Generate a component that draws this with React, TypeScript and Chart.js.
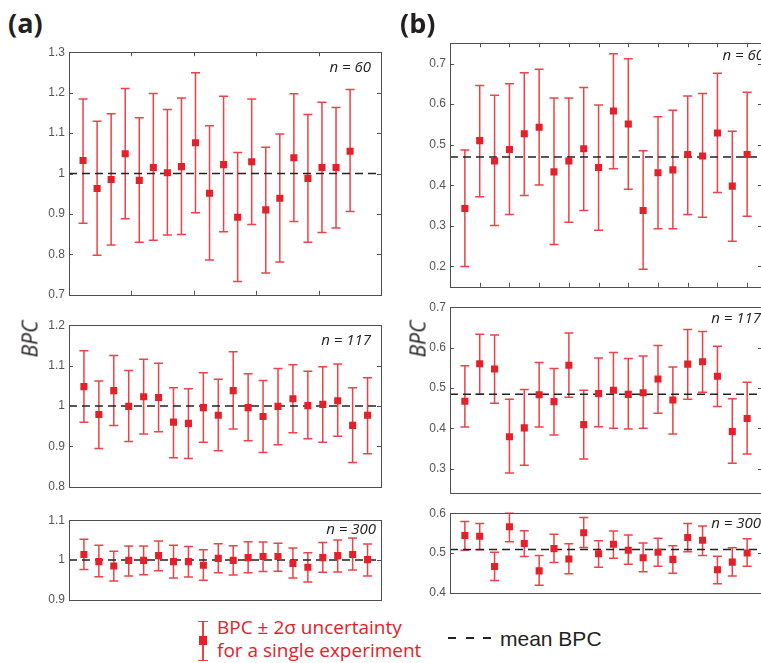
import React, { useEffect, useRef } from "react";
import { Chart, registerables } from "chart.js";
Chart.register(...registerables);

// ---------- data ----------
const experiments = [1, 2, 3, 4, 5, 6, 7, 8, 9, 10, 11, 12, 13, 14, 15, 16, 17, 18, 19, 20];

// (a) n = 60
const a60Val = [1.032, 0.963, 0.985, 1.049, 0.983, 1.015, 1.002, 1.017, 1.076, 0.951, 1.022, 0.892, 1.029, 0.910, 0.939, 1.039, 0.988, 1.015, 1.015, 1.055];
const a60Hi = [1.184, 1.129, 1.148, 1.210, 1.138, 1.198, 1.158, 1.187, 1.249, 1.118, 1.191, 1.052, 1.184, 1.065, 1.098, 1.197, 1.146, 1.176, 1.163, 1.208];
const a60Lo = [0.877, 0.798, 0.823, 0.888, 0.830, 0.835, 0.848, 0.849, 0.903, 0.786, 0.856, 0.733, 0.874, 0.754, 0.781, 0.881, 0.830, 0.854, 0.865, 0.906];
const a60Mean = 1.0;
const a60YTicks = [0.7, 0.8, 0.9, 1, 1.1, 1.2, 1.3];

// (a) n = 117
const a117Val = [1.048, 0.979, 1.038, 0.999, 1.023, 1.021, 0.960, 0.957, 0.996, 0.977, 1.038, 0.996, 0.974, 0.999, 1.018, 1.001, 1.004, 1.013, 0.952, 0.977];
const a117Hi = [1.137, 1.062, 1.125, 1.088, 1.116, 1.106, 1.045, 1.043, 1.082, 1.066, 1.134, 1.080, 1.063, 1.093, 1.102, 1.086, 1.097, 1.104, 1.045, 1.070];
const a117Lo = [0.960, 0.895, 0.952, 0.912, 0.931, 0.936, 0.872, 0.870, 0.910, 0.889, 0.943, 0.914, 0.885, 0.904, 0.934, 0.919, 0.910, 0.925, 0.860, 0.882];
const a117Mean = 1.0;
const a117YTicks = [0.8, 0.9, 1, 1.1, 1.2];

// (a) n = 300
const a300Val = [1.014, 0.996, 0.985, 0.999, 0.999, 1.011, 0.996, 0.996, 0.987, 1.004, 0.999, 1.006, 1.009, 1.009, 0.991, 0.982, 1.006, 1.011, 1.014, 1.001];
const a300Hi = [1.052, 1.037, 1.022, 1.035, 1.035, 1.048, 1.037, 1.034, 1.026, 1.041, 1.036, 1.046, 1.045, 1.042, 1.030, 1.018, 1.044, 1.050, 1.055, 1.040];
const a300Lo = [0.976, 0.958, 0.947, 0.960, 0.963, 0.973, 0.955, 0.957, 0.949, 0.968, 0.962, 0.968, 0.971, 0.972, 0.955, 0.945, 0.969, 0.970, 0.975, 0.960];
const a300Mean = 1.0;
const a300YTicks = [0.9, 1, 1.1];

// (b) n = 60
const b60Val = [0.343, 0.510, 0.460, 0.488, 0.527, 0.543, 0.433, 0.460, 0.490, 0.444, 0.583, 0.551, 0.338, 0.431, 0.438, 0.476, 0.472, 0.529, 0.398, 0.476];
const b60Hi = [0.487, 0.646, 0.622, 0.650, 0.677, 0.686, 0.615, 0.615, 0.641, 0.598, 0.724, 0.712, 0.485, 0.569, 0.585, 0.620, 0.626, 0.676, 0.533, 0.629];
const b60Lo = [0.200, 0.372, 0.301, 0.328, 0.375, 0.401, 0.254, 0.309, 0.338, 0.289, 0.441, 0.390, 0.193, 0.293, 0.293, 0.328, 0.321, 0.382, 0.262, 0.324];
const b60Mean = 0.470;
const b60YTicks = [0.2, 0.3, 0.4, 0.5, 0.6, 0.7];
const b60XTicks = [2, 4, 6, 8, 10, 12, 14, 16, 18, 20];

// (b) n = 117
const b117Val = [0.467, 0.560, 0.547, 0.379, 0.401, 0.483, 0.466, 0.556, 0.409, 0.486, 0.494, 0.484, 0.488, 0.522, 0.470, 0.559, 0.565, 0.529, 0.392, 0.424];
const b117Hi = [0.555, 0.633, 0.631, 0.472, 0.496, 0.563, 0.548, 0.636, 0.494, 0.574, 0.588, 0.573, 0.579, 0.605, 0.552, 0.645, 0.640, 0.603, 0.473, 0.514];
const b117Lo = [0.403, 0.484, 0.462, 0.289, 0.308, 0.403, 0.383, 0.477, 0.324, 0.404, 0.400, 0.398, 0.400, 0.437, 0.386, 0.472, 0.489, 0.454, 0.313, 0.336];
const b117Mean = 0.484;
const b117YTicks = [0.3, 0.4, 0.5, 0.6, 0.7];

// (b) n = 300
const b300Val = [0.544, 0.542, 0.466, 0.566, 0.524, 0.455, 0.511, 0.485, 0.551, 0.498, 0.522, 0.507, 0.488, 0.502, 0.484, 0.539, 0.532, 0.458, 0.477, 0.500];
const b300Hi = [0.579, 0.574, 0.502, 0.600, 0.556, 0.494, 0.547, 0.523, 0.589, 0.531, 0.555, 0.545, 0.525, 0.537, 0.518, 0.574, 0.568, 0.492, 0.513, 0.536];
const b300Lo = [0.507, 0.508, 0.431, 0.528, 0.491, 0.419, 0.476, 0.448, 0.514, 0.464, 0.487, 0.472, 0.453, 0.467, 0.449, 0.503, 0.494, 0.423, 0.442, 0.467];
const b300Mean = 0.509;
const b300YTicks = [0.4, 0.5, 0.6];

// ---------- layout / style ----------
const RED = "#e4202a";
const BAR_RED = "rgba(234,40,46,0.88)";
const AXIS = "#4f4f4f";
const TICK_FONT = "'Liberation Sans', Arial, sans-serif";
const LABEL_FONT = "'Open Sans', 'Noto Sans', sans-serif";
const YW = 45;
const PAD = 10;

type Spec = {
  id: string; left: number; top: number; right: number; bottom: number;
  yMin: number; yMax: number; yTicks: number[]; xMax: number; xTicks: number[];
  val: number[]; lo: number[]; hi: number[]; mean: number;
  label: string; labelRight: number; labelY: number;
};

const a60XMax = 22.2;
const panels: Spec[] = [
  { id: "a60", left: 69, top: 51, right: 381, bottom: 296, yMin: 0.7, yMax: 1.3, yTicks: a60YTicks, xMax: a60XMax,
    xTicks: [0.2, 0.4, 0.6, 0.8].map((f) => f * a60XMax), val: a60Val, lo: a60Lo, hi: a60Hi, mean: a60Mean,
    label: "n = 60", labelRight: 371, labelY: 67 },
  { id: "a117", left: 69, top: 324, right: 381, bottom: 488, yMin: 0.8, yMax: 1.2, yTicks: a117YTicks, xMax: 20.9,
    xTicks: [], val: a117Val, lo: a117Lo, hi: a117Hi, mean: a117Mean, label: "n = 117", labelRight: 371, labelY: 340 },
  { id: "a300", left: 69, top: 519, right: 381, bottom: 601, yMin: 0.9, yMax: 1.1, yTicks: a300YTicks, xMax: 20.9,
    xTicks: [], val: a300Val, lo: a300Lo, hi: a300Hi, mean: a300Mean, label: "n = 300", labelRight: 376, labelY: 529 },
  { id: "b60", left: 450, top: 42, right: 762, bottom: 288, yMin: 0.15, yMax: 0.75, yTicks: b60YTicks, xMax: 21,
    xTicks: b60XTicks, val: b60Val, lo: b60Lo, hi: b60Hi, mean: b60Mean, label: "n = 60", labelRight: 764, labelY: 55 },
  { id: "b117", left: 450, top: 306, right: 762, bottom: 494, yMin: 0.24, yMax: 0.7, yTicks: b117YTicks, xMax: 21,
    xTicks: [], val: b117Val, lo: b117Lo, hi: b117Hi, mean: b117Mean, label: "n = 117", labelRight: 761, labelY: 318 },
  { id: "b300", left: 450, top: 512, right: 762, bottom: 594, yMin: 0.4, yMax: 0.6, yTicks: b300YTicks, xMax: 21,
    xTicks: [], val: b300Val, lo: b300Lo, hi: b300Hi, mean: b300Mean, label: "n = 300", labelRight: 761, labelY: 523 },
];

function Panel({ s }: { s: Spec }) {
  const ref = useRef<HTMLCanvasElement>(null);
  const w = YW + (s.right - s.left) + PAD;
  const h = (s.bottom - s.top) + 2 * PAD;
  useEffect(() => {
    const decor = {
      id: "decor_" + s.id,
      beforeDatasetsDraw(chart: any) {
        const ctx = chart.ctx;
        const xs = chart.scales.x;
        const ys = chart.scales.y;
        ctx.save();
        ctx.strokeStyle = BAR_RED;
        ctx.lineWidth = 1.5;
        experiments.forEach((e, i) => {
          const x = xs.getPixelForValue(e);
          const yt = ys.getPixelForValue(s.hi[i]);
          const yb = ys.getPixelForValue(s.lo[i]);
          ctx.beginPath();
          ctx.moveTo(x, yt); ctx.lineTo(x, yb);
          ctx.moveTo(x - 4.5, yt); ctx.lineTo(x + 4.5, yt);
          ctx.moveTo(x - 4.5, yb); ctx.lineTo(x + 4.5, yb);
          ctx.stroke();
        });
        ctx.restore();
      },
      afterDraw(chart: any) {
        const ctx = chart.ctx;
        const a = chart.chartArea;
        const xs = chart.scales.x;
        const ys = chart.scales.y;
        ctx.save();
        ctx.strokeStyle = AXIS;
        ctx.lineWidth = 1;
        ctx.strokeRect(Math.round(a.left) + 0.5, Math.round(a.top) + 0.5, Math.round(a.right - a.left), Math.round(a.bottom - a.top));
        ctx.beginPath();
        s.yTicks.forEach((v) => {
          const y = Math.round(ys.getPixelForValue(v)) + 0.5;
          ctx.moveTo(a.left, y); ctx.lineTo(a.left + 4, y);
          ctx.moveTo(a.right, y); ctx.lineTo(a.right - 4, y);
        });
        s.xTicks.forEach((v) => {
          const x = Math.round(xs.getPixelForValue(v)) + 0.5;
          ctx.moveTo(x, a.top); ctx.lineTo(x, a.top + 4);
          ctx.moveTo(x, a.bottom); ctx.lineTo(x, a.bottom - 4);
        });
        ctx.stroke();
        ctx.restore();
      },
    };
    const chart = new Chart(ref.current as HTMLCanvasElement, {
      type: "scatter",
      data: {
        datasets: [
          {
            type: "line",
            data: [{ x: 0, y: s.mean }, { x: s.xMax, y: s.mean }],
            borderColor: "#222",
            borderWidth: 1.5,
            borderDash: [8, 5],
            pointRadius: 0,
            order: 2,
          } as any,
          {
            type: "scatter",
            data: experiments.map((e, i) => ({ x: e, y: s.val[i] })),
            pointStyle: "rect",
            pointRadius: 5,
            backgroundColor: RED,
            borderWidth: 0,
            order: 1,
          },
        ],
      },
      options: {
        animation: false,
        responsive: false,
        devicePixelRatio: 1,
        events: [],
        layout: { padding: { left: 0, right: PAD, top: PAD, bottom: PAD } },
        plugins: { legend: { display: false }, tooltip: { enabled: false } },
        scales: {
          x: { type: "linear", min: 0, max: s.xMax, display: false },
          y: {
            type: "linear",
            min: s.yMin,
            max: s.yMax,
            grid: { display: false, drawTicks: false },
            border: { display: false },
            afterBuildTicks: (sc: any) => { sc.ticks = s.yTicks.map((v) => ({ value: v })); },
            afterFit: (sc: any) => { sc.width = YW; },
            ticks: {
              padding: 4,
              color: "#555",
              font: { family: TICK_FONT, size: 12 },
              callback: (v: any) => String(Math.round(Number(v) * 10) / 10),
            },
          },
        },
      },
      plugins: [decor],
    } as any);
    return () => chart.destroy();
  }, []);
  return (
    <canvas
      ref={ref}
      width={w}
      height={h}
      style={{ position: "absolute", left: s.left - YW, top: s.top - PAD, width: w, height: h }}
    />
  );
}

export default function App() {
  const nStyle = (s: Spec): React.CSSProperties => ({
    position: "absolute", right: 761 - s.labelRight, top: s.labelY - 9, fontFamily: LABEL_FONT,
    fontStyle: "italic", fontSize: 15, lineHeight: "17px", color: "#222", whiteSpace: "nowrap",
  });
  return (
    <div style={{ position: "fixed", left: 0, top: 0, width: 761, height: 663, overflow: "hidden", background: "#fff" }}>
      {panels.map((s) => <Panel key={s.id} s={s} />)}
      {panels.map((s) => <div key={"n" + s.id} style={nStyle(s)}>{s.label}</div>)}
      <div style={{ position: "absolute", left: 8, top: 9, fontFamily: LABEL_FONT, fontWeight: 700, fontSize: 27, lineHeight: "27px", color: "#231f20" }}>(a)</div>
      <div style={{ position: "absolute", left: 400, top: 9, fontFamily: LABEL_FONT, fontWeight: 700, fontSize: 27, lineHeight: "27px", color: "#231f20" }}>(b)</div>
      {[30, 418].map((x) => (
        <div key={"bpc" + x} style={{ position: "absolute", left: x, top: 339, transform: "translate(-50%,-50%) rotate(-90deg)", fontFamily: LABEL_FONT, fontStyle: "italic", fontSize: 21, lineHeight: "21px", color: "#231f20", whiteSpace: "nowrap" }}>BPC</div>
      ))}
      {/* legend: error-bar symbol */}
      <div style={{ position: "absolute", left: 202, top: 621, width: 1.5, height: 39, background: BAR_RED }} />
      <div style={{ position: "absolute", left: 198, top: 620.5, width: 10, height: 1.5, background: BAR_RED }} />
      <div style={{ position: "absolute", left: 198, top: 659.5, width: 10, height: 1.5, background: BAR_RED }} />
      <div style={{ position: "absolute", left: 199, top: 636, width: 8, height: 9, background: RED }} />
      <div style={{ position: "absolute", left: 217, top: 616, fontFamily: LABEL_FONT, fontSize: 19, lineHeight: "23px", color: RED, whiteSpace: "nowrap" }}>
        BPC ± 2σ uncertainty<br />for a single experiment
      </div>
      {[448, 466, 483].map((x) => (
        <div key={"d" + x} style={{ position: "absolute", left: x, top: 637, width: 8, height: 1.5, background: "#222" }} />
      ))}
      <div style={{ position: "absolute", left: 500, top: 628, fontFamily: TICK_FONT, fontSize: 21, lineHeight: "21px", color: "#231f20", whiteSpace: "nowrap" }}>mean BPC</div>
    </div>
  );
}
